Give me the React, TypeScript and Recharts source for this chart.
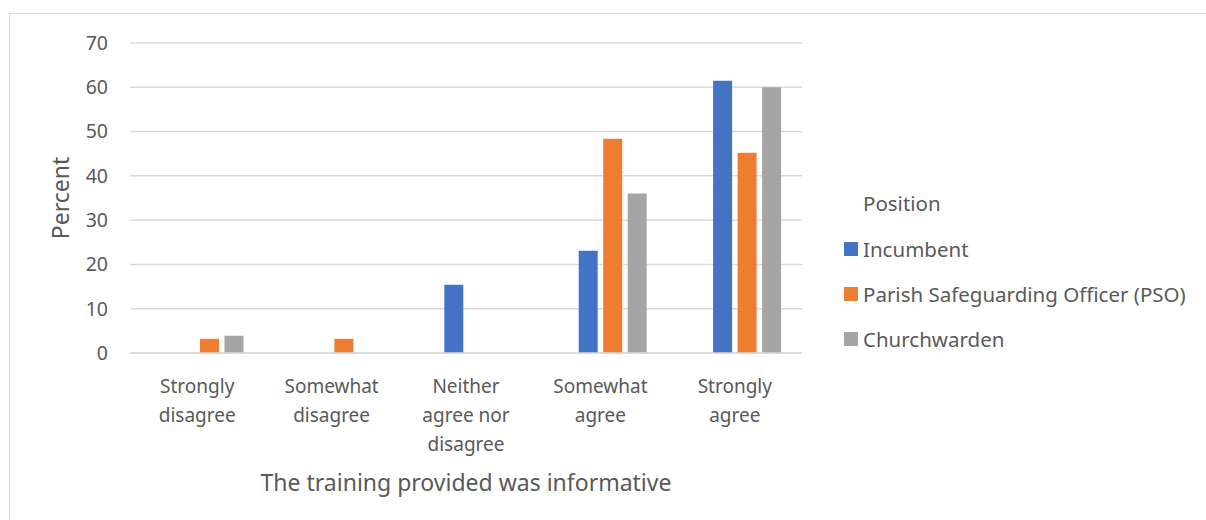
import { BarChart, Bar, XAxis, YAxis, CartesianGrid, Label } from 'recharts';

const categories = [
  'Strongly\ndisagree',
  'Somewhat\ndisagree',
  'Neither\nagree nor\ndisagree',
  'Somewhat\nagree',
  'Strongly\nagree',
];

// empty first series: the source chart keeps a slot for it in every group
const blank = [null, null, null, null, null];
const incumbent = [0, 0, 15.4, 23.1, 61.5];
const pso = [3.2, 3.2, 0, 48.4, 45.2];
const churchwarden = [3.9, 0, 0, 36, 60];

const yTicks = [0, 10, 20, 30, 40, 50, 60, 70];

const series = [
  { key: 'incumbent', name: 'Incumbent', color: '#4472C4' },
  { key: 'pso', name: 'Parish Safeguarding Officer (PSO)', color: '#ED7D31' },
  { key: 'churchwarden', name: 'Churchwarden', color: '#A5A5A5' },
];

const data = categories.map((name, i) => ({
  name,
  blank: blank[i],
  incumbent: incumbent[i],
  pso: pso[i],
  churchwarden: churchwarden[i],
}));

const FONT = '"Segoe UI", "Noto Sans", "Open Sans", sans-serif';
const TEXT = '#595959';
const GRID = '#d9d9d9';

const CategoryTick = ({ x, y, payload }: any) => {
  const lines = String(payload.value).split('\n');
  return (
    <text x={x} y={y + 32} textAnchor="middle" fill={TEXT} fontSize={19} fontFamily={FONT}>
      {lines.map((line, i) => (
        <tspan key={i} x={x} dy={i === 0 ? 0 : 29}>
          {line}
        </tspan>
      ))}
    </text>
  );
};

const LegendBox = () => (
  <div style={{ position: 'absolute', left: 844, top: 181, fontFamily: FONT, color: TEXT, fontSize: 20.5 }}>
    <div style={{ marginLeft: 19, height: 45, lineHeight: '44px' }}>Position</div>
    {series.map((s) => (
      <div key={s.key} style={{ display: 'flex', alignItems: 'center', height: 45 }}>
        <span style={{ width: 14, height: 14, background: s.color, marginRight: 5 }} />
        <span>{s.name}</span>
      </div>
    ))}
  </div>
);

export default function App() {
  return (
    <div style={{ position: 'absolute', left: 0, top: 0, width: 1206, height: 520, background: '#fff', overflow: 'hidden' }}>
      <div
        style={{
          position: 'absolute',
          left: 9,
          top: 13,
          width: 1220,
          height: 540,
          border: '1.5px solid #d9d9d9',
          boxSizing: 'border-box',
        }}
      />
      <div style={{ position: 'absolute', left: 0, top: 0 }}>
        <BarChart
          width={1206}
          height={520}
          data={data}
          margin={{ top: 43, right: 404, left: 90, bottom: 27 }}
          barSize={19}
          barGap={5.5}
        >
          <CartesianGrid vertical={false} stroke={GRID} strokeWidth={1.5} />
          <XAxis
            dataKey="name"
            axisLine={{ stroke: GRID, strokeWidth: 1.5 }}
            tickLine={false}
            height={140}
            interval={0}
            tick={<CategoryTick />}
          >
            <Label
              content={({ viewBox }: any) => (
                <text
                  x={viewBox.x + viewBox.width / 2}
                  y={491}
                  textAnchor="middle"
                  fill={TEXT}
                  fontSize={23}
                  fontFamily={FONT}
                >
                  The training provided was informative
                </text>
              )}
            />
          </XAxis>
          <YAxis
            domain={[0, 70]}
            ticks={yTicks}
            interval={0}
            width={40}
            axisLine={false}
            tickLine={false}
            tickMargin={16}
            tick={{ fill: TEXT, fontSize: 19.5, fontFamily: FONT }}
          >
            <Label
              content={() => (
                <text
                  x={69}
                  y={198}
                  transform="rotate(-90 69 198)"
                  textAnchor="middle"
                  fill={TEXT}
                  fontSize={23}
                  fontFamily={FONT}
                >
                  Percent
                </text>
              )}
            />
          </YAxis>
          <Bar dataKey="blank" legendType="none" fill="#5b9bd5" isAnimationActive={false} />
          {series.map((s) => (
            <Bar key={s.key} dataKey={s.key} name={s.name} fill={s.color} isAnimationActive={false} />
          ))}
        </BarChart>
      </div>
      <LegendBox />
    </div>
  );
}
